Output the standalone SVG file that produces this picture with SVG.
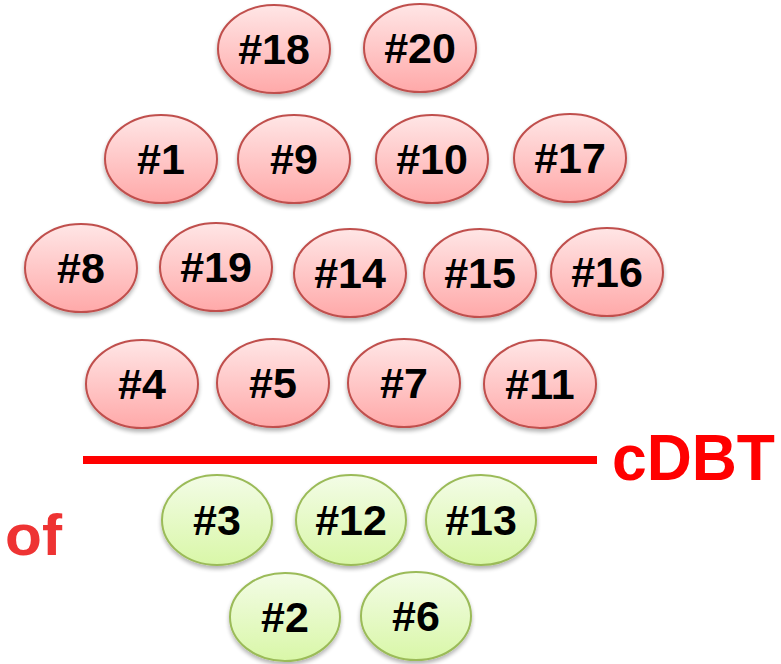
<svg xmlns="http://www.w3.org/2000/svg" width="781" height="664" viewBox="0 0 781 664">
<defs>
<linearGradient id="gr" x1="0" y1="0" x2="0" y2="1">
<stop offset="0" stop-color="#ffe6e6"/>
<stop offset="1" stop-color="#ffa9a9"/>
</linearGradient>
<linearGradient id="gg" x1="0" y1="0" x2="0" y2="1">
<stop offset="0" stop-color="#f3fce6"/>
<stop offset="1" stop-color="#d9f7a8"/>
</linearGradient>
<filter id="sh" x="-20%" y="-20%" width="140%" height="150%">
<feGaussianBlur in="SourceAlpha" stdDeviation="2"/>
<feOffset dy="3"/>
<feComponentTransfer><feFuncA type="linear" slope="0.3"/></feComponentTransfer>
<feMerge><feMergeNode/><feMergeNode in="SourceGraphic"/></feMerge>
</filter>
</defs>
<style>
.r ellipse{fill:url(#gr);stroke:#c0504d;stroke-width:2;filter:url(#sh)}
.g ellipse{fill:url(#gg);stroke:#9bbb59;stroke-width:2;filter:url(#sh)}
text.l{font-family:"Liberation Sans",Arial,sans-serif;font-weight:bold;font-size:43px;fill:#000;text-anchor:middle}
</style>
<rect width="781" height="664" fill="#fff"/>
<g id="n18" class="r"><ellipse cx="274" cy="49" rx="56" ry="44"/><text class="l" x="274" y="64">#18</text></g>
<g id="n20" class="r"><ellipse cx="420" cy="48" rx="56" ry="44"/><text class="l" x="420" y="63">#20</text></g>
<g id="n1" class="r"><ellipse cx="161" cy="159" rx="56" ry="44"/><text class="l" x="161" y="174">#1</text></g>
<g id="n9" class="r"><ellipse cx="294" cy="159" rx="56" ry="44"/><text class="l" x="294" y="174">#9</text></g>
<g id="n10" class="r"><ellipse cx="432" cy="159" rx="56" ry="44"/><text class="l" x="432" y="174">#10</text></g>
<g id="n17" class="r"><ellipse cx="570" cy="158" rx="56" ry="44"/><text class="l" x="570" y="173">#17</text></g>
<g id="n8" class="r"><ellipse cx="81" cy="268" rx="56" ry="44"/><text class="l" x="81" y="283">#8</text></g>
<g id="n19" class="r"><ellipse cx="216" cy="267" rx="56" ry="44"/><text class="l" x="216" y="282">#19</text></g>
<g id="n14" class="r"><ellipse cx="350" cy="273" rx="56" ry="44"/><text class="l" x="350" y="288">#14</text></g>
<g id="n15" class="r"><ellipse cx="480" cy="273" rx="56" ry="44"/><text class="l" x="480" y="288">#15</text></g>
<g id="n16" class="r"><ellipse cx="607" cy="272" rx="56" ry="44"/><text class="l" x="607" y="287">#16</text></g>
<g id="n4" class="r"><ellipse cx="142" cy="384" rx="56" ry="44"/><text class="l" x="142" y="399">#4</text></g>
<g id="n5" class="r"><ellipse cx="273" cy="383" rx="56" ry="44"/><text class="l" x="273" y="398">#5</text></g>
<g id="n7" class="r"><ellipse cx="404" cy="383" rx="56" ry="44"/><text class="l" x="404" y="398">#7</text></g>
<g id="n11" class="r"><ellipse cx="540" cy="384" rx="56" ry="44"/><text class="l" x="540" y="399">#11</text></g>
<g id="connectors">
<line x1="83" y1="460" x2="597" y2="460" stroke="#ff0000" stroke-width="8"/>
</g>
<text x="612" y="480" font-family="'Liberation Sans',Arial,sans-serif" font-weight="bold" font-size="64" fill="#ff0000" textLength="163" lengthAdjust="spacingAndGlyphs">cDBT</text>
<text x="5" y="555" font-family="'Liberation Sans',Arial,sans-serif" font-weight="bold" font-size="58" fill="#ee3333" textLength="57" lengthAdjust="spacingAndGlyphs">of</text>
<g id="n3" class="g"><ellipse cx="217" cy="520" rx="55" ry="45"/><text class="l" x="217" y="535">#3</text></g>
<g id="n12" class="g"><ellipse cx="351" cy="520" rx="55" ry="45"/><text class="l" x="351" y="535">#12</text></g>
<g id="n13" class="g"><ellipse cx="481" cy="520" rx="55" ry="45"/><text class="l" x="481" y="535">#13</text></g>
<g id="n2" class="g"><ellipse cx="285" cy="617" rx="55" ry="44"/><text class="l" x="285" y="632">#2</text></g>
<g id="n6" class="g"><ellipse cx="416" cy="616" rx="55" ry="44"/><text class="l" x="416" y="631">#6</text></g>
</svg>
